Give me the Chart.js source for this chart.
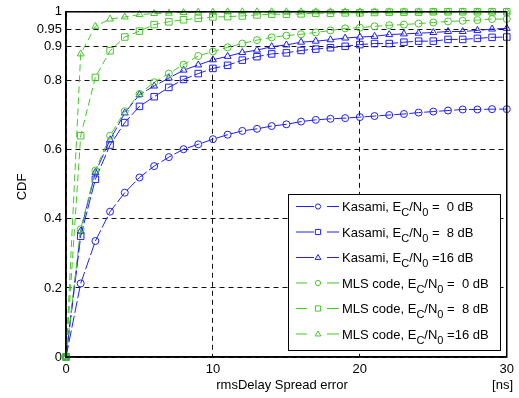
<!DOCTYPE html>
<html>
<head>
<meta charset="utf-8">
<script src="https://cdn.jsdelivr.net/npm/chart.js@4.4.1/dist/chart.umd.min.js"></script>
<style>
html,body{margin:0;padding:0;background:#fff;}
#wrap{width:519px;height:398px;position:relative;}
</style>
</head>
<body>
<div id="wrap"><canvas id="c" width="519" height="398"></canvas></div>
<script>
const xValues = [0,1,2,3,4,5,6,7,8,9,10,11,12,13,14,15,16,17,18,19,20,21,22,23,24,25,26,27,28,29,30];
const kasami0 = [0,0.213,0.336,0.421,0.476,0.52,0.553,0.579,0.602,0.616,0.631,0.644,0.655,0.661,0.669,0.674,0.682,0.687,0.690,0.692,0.695,0.698,0.701,0.704,0.708,0.711,0.714,0.717,0.717,0.718,0.718];
const kasami8 = [0,0.35,0.515,0.614,0.679,0.726,0.754,0.781,0.804,0.821,0.836,0.845,0.86,0.87,0.878,0.881,0.888,0.892,0.896,0.900,0.905,0.908,0.908,0.912,0.915,0.915,0.920,0.920,0.923,0.926,0.927];
const kasami16 = [0,0.365,0.535,0.629,0.707,0.760,0.785,0.808,0.831,0.846,0.861,0.871,0.882,0.889,0.899,0.904,0.912,0.915,0.919,0.924,0.927,0.929,0.934,0.936,0.938,0.940,0.943,0.943,0.946,0.950,0.952];
const mls0 = [0,0.37,0.54,0.641,0.712,0.762,0.796,0.821,0.847,0.872,0.885,0.897,0.908,0.918,0.926,0.931,0.935,0.940,0.946,0.952,0.954,0.958,0.961,0.963,0.966,0.969,0.972,0.974,0.976,0.979,0.979];
const mls8 = [0,0.641,0.81,0.887,0.927,0.944,0.963,0.971,0.977,0.981,0.985,0.986,0.988,0.991,0.993,0.993,0.994,0.996,0.996,0.997,0.997,0.998,0.999,0.999,0.999,1.0,1.0,1.0,1.0,1.0,1.0];
const mls16 = [0,0.878,0.958,0.979,0.985,0.992,0.995,0.996,0.998,0.999,0.999,1.0,1.0,1.0,1.0,1.0,1.0,1.0,1.0,1.0,1.0,1.0,1.0,1.0,1.0,1.0,1.0,1.0,1.0,1.0,1.0];
const yTickValues = [0,0.2,0.4,0.6,0.8,0.9,0.95,1];
const xTickValues = [0,10,20,30];
const seriesNames = ["Kasami", "Kasami", "Kasami", "MLS code", "MLS code", "MLS code"];
const snrLabels = [" =  0 dB", " =  8 dB", " =16 dB", " =  0 dB", " =  8 dB", " =16 dB"];

const BLUE = '#1f1fff';
const GREEN = '#46c828';
const FONT = '"Liberation Sans", Arial, Helvetica, sans-serif';

function mk(vals, color, style, radius, dash, order){
  return {
    data: xValues.map((x,i)=>({x:x, y:vals[i]})),
    borderColor: color,
    backgroundColor: 'rgba(0,0,0,0)',
    pointBorderColor: color,
    pointBackgroundColor: 'rgba(0,0,0,0)',
    pointStyle: style,
    pointRadius: radius,
    pointBorderWidth: 1,
    borderWidth: 1,
    borderDash: dash,
    tension: 0,
    clip: false,
    order: order
  };
}
const blueDash = [12,3];
const greenDash = [7,4];
const datasets = [
  mk(kasami0, BLUE, 'circle', 3.5, blueDash, 6),
  mk(kasami8, BLUE, 'rect', 4.6, blueDash, 5),
  mk(kasami16, BLUE, 'triangle', 4, blueDash, 4),
  mk(mls0, GREEN, 'circle', 3.5, greenDash, 3),
  mk(mls8, GREEN, 'rect', 4.6, greenDash, 2),
  mk(mls16, GREEN, 'triangle', 4, greenDash, 1)
];

function drawMarker(ctx, style, x, y, r){
  ctx.beginPath();
  if(style==='circle'){ ctx.arc(x,y,r,0,Math.PI*2); }
  else if(style==='rect'){ ctx.rect(x-r,y-r,2*r,2*r); }
  else { ctx.moveTo(x, y-r*1.15); ctx.lineTo(x+r*1.1, y+r*0.75); ctx.lineTo(x-r*1.1, y+r*0.75); ctx.closePath(); }
  ctx.stroke();
}

const overlay = {
  id: 'overlay',
  afterDatasetsDraw(chart){
    const ctx = chart.ctx;
    const a = chart.chartArea;
    ctx.save();
    // frame
    ctx.strokeStyle = '#000';
    ctx.lineWidth = 1.5;
    ctx.setLineDash([]);
    ctx.strokeRect(a.left, a.top, a.right - a.left, a.bottom - a.top);
    // axis titles
    ctx.fillStyle = '#000';
    ctx.font = '13px ' + FONT;
    ctx.textBaseline = 'middle';
    ctx.textAlign = 'center';
    ctx.fillText('rmsDelay Spread error', 282, 385);
    ctx.textAlign = 'right';
    ctx.fillText('[ns]', 513, 385);
    ctx.save();
    ctx.translate(22, 187);
    ctx.rotate(-Math.PI/2);
    ctx.textAlign = 'center';
    ctx.fillText('CDF', 0, 0);
    ctx.restore();
    // legend
    const bx = 288, by = 194, bw = 212, bh = 156;
    ctx.fillStyle = '#fff';
    ctx.fillRect(bx, by, bw, bh);
    ctx.strokeStyle = '#000';
    ctx.lineWidth = 1;
    ctx.strokeRect(bx + 0.5, by + 0.5, bw, bh);
    chart.data.datasets.forEach((ds, i) => {
      const y = 206.5 + i * 25.5;
      const isBlue = i < 3;
      ctx.strokeStyle = ds.borderColor;
      ctx.lineWidth = 1;
      ctx.setLineDash([]);
      ctx.beginPath();
      ctx.moveTo(296, y); ctx.lineTo(isBlue ? 314 : 307, y);
      ctx.moveTo(327, y); ctx.lineTo(339, y);
      ctx.stroke();
      drawMarker(ctx, ds.pointStyle, 318, y, ds.pointStyle==='rect' ? 2.6 : 2.6);
      // text
      let x = 342;
      ctx.fillStyle = '#000';
      ctx.textAlign = 'left';
      ctx.textBaseline = 'alphabetic';
      const base = y + 4.5;
      const main = '13px ' + FONT, sub = '11px ' + FONT;
      const parts = [[seriesNames[i] + ', E', main, 0], ['C', sub, 5], ['/N', main, 0], ['0', sub, 5], [snrLabels[i], main, 0]];
      parts.forEach(p => {
        ctx.font = p[1];
        ctx.fillText(p[0], x, base + p[2]);
        x += ctx.measureText(p[0]).width;
      });
    });
    ctx.restore();
  }
};

new Chart(document.getElementById('c'), {
  type: 'line',
  data: { datasets: datasets },
  plugins: [overlay],
  options: {
    responsive: false,
    animation: false,
    devicePixelRatio: 1,
    layout: { padding: { top: 9, right: 8, left: 0, bottom: 0 } },
    plugins: { legend: { display: false }, tooltip: { enabled: false } },
    scales: {
      x: {
        type: 'linear',
        min: 0, max: 30,
        afterBuildTicks: s => { s.ticks = xTickValues.map(v => ({value: v})); },
        afterFit: s => { s.height = 41; },
        grid: { color: '#111', lineWidth: 1, drawTicks: false },
        border: { display: true, color: '#000', width: 1.5, dash: [5,4] },
        ticks: { color: '#000', font: { family: FONT, size: 13 }, padding: 5, maxRotation: 0 }
      },
      y: {
        type: 'linear',
        min: 0, max: 1,
        afterBuildTicks: s => { s.ticks = yTickValues.map(v => ({value: v})); },
        afterFit: s => { s.width = 66; },
        grid: { color: '#111', lineWidth: 1, drawTicks: false },
        border: { display: true, color: '#000', width: 1.5, dash: [5,4] },
        ticks: { color: '#000', font: { family: FONT, size: 13 }, padding: 4, callback: v => String(v) }
      }
    }
  }
});
</script>
</body>
</html>
